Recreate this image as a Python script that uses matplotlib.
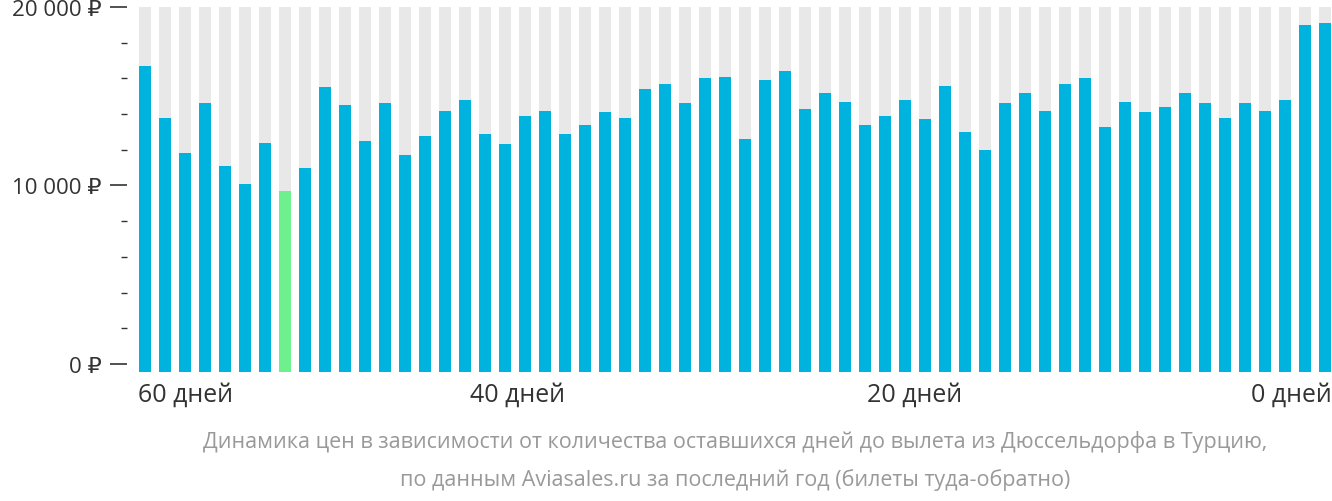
import matplotlib.pyplot as plt

prices = [16700, 13800, 11800, 14600, 11100, 10100, 12400, 9700, 11000, 15500,
          14500, 12500, 14600, 11700, 12800, 14200, 14800, 12900, 12300, 13900,
          14200, 12900, 13400, 14100, 13800, 15400, 15700, 14600, 16000, 16100,
          12600, 15900, 16400, 14300, 15200, 14700, 13400, 13900, 14800, 13700,
          15600, 13000, 12000, 14600, 15200, 14200, 15700, 16000, 13300, 14700,
          14100, 14400, 15200, 14600, 13800, 14600, 14200, 14800, 19000, 19100]
cheapest = 7
ytick_vals = [0, 10000, 20000]
ytick_labels = ["0 ₽", "10 000 ₽", "20 000 ₽"]
xlabel_pos = [0, 18.6, 38.5, 59]
xlabel_text = ["60 дней", "40 дней", "20 дней", "0 дней"]

plt.rcParams['font.family'] = ['Open Sans', 'DejaVu Sans']
fig = plt.figure(figsize=(13.32, 5.02), dpi=100)
ax = fig.add_axes([138/1332, 1 - 373/502, 1194/1332, 365/502])

base = -450
x = list(range(len(prices)))
colors = ['#6ef08c' if i == cheapest else '#00b2de' for i in x]
ax.bar(x, [20000 - base] * len(x), bottom=base, width=0.64, color='#e8e8e8')
ax.bar(x, [p - base for p in prices], bottom=base, width=0.64, color=colors)

ax.set_xlim(-0.35, len(prices) - 0.65)
ax.set_ylim(base, 20000)
for s in ax.spines.values():
    s.set_visible(False)
ax.spines['left'].set_position(('outward', 8))
ax.set_yticks(ytick_vals, ytick_labels, fontsize=16, color='#333333')
ax.set_yticks(range(2000, 20000, 2000), minor=True)
ax.tick_params(axis='y', which='major', length=12, width=1.2, pad=6, color='#333333')
ax.tick_params(axis='y', which='minor', length=4, width=1, color='#333333')
ax.set_xticks([])
for pos, txt, ha in zip(xlabel_pos, xlabel_text, ['left', 'center', 'center', 'right']):
    xx = pos - 0.33 if ha == 'left' else (pos + 0.33 if ha == 'right' else pos)
    ax.text(xx, -1000, txt, ha=ha, va='top', fontsize=18, color='#333333')

fig.text(0.552, 1 - 442/502, "Динамика цен в зависимости от количества оставшихся дней до вылета из Дюссельдорфа в Турцию,",
         ha='center', va='center', fontsize=15.5, color='#999999')
fig.text(0.552, 1 - 480/502, "по данным Aviasales.ru за последний год (билеты туда-обратно)",
         ha='center', va='center', fontsize=15.5, color='#999999')

fig.savefig('out.png', dpi=100)
